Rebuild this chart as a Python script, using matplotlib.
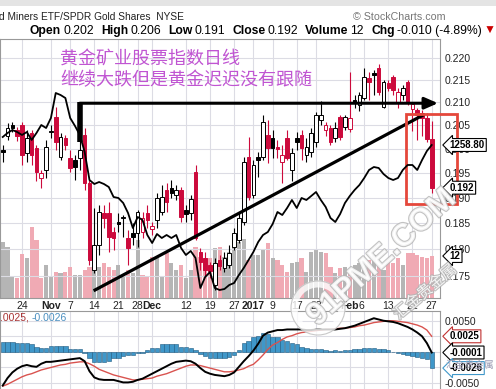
import matplotlib
matplotlib.use("Agg")
import matplotlib.pyplot as plt
import matplotlib.patheffects as pe
import matplotlib.transforms as mtrans
from matplotlib.patches import Rectangle, Circle
from matplotlib.ticker import NullLocator, NullFormatter, FuncFormatter
import numpy as np
import pandas as pd

plt.rcParams['font.family'] = ['Liberation Sans', 'DejaVu Sans']

W, H = 496, 389

# trading days (US holidays removed)
holidays = ["2016-11-24", "2016-12-26", "2017-01-02", "2017-01-16", "2017-02-20"]
dates = pd.bdate_range("2016-10-18", "2017-02-27", freq="C", holidays=holidays)

opens = [
    0.1998, 0.2027, 0.2051, 0.2040, 0.2051, 0.1991, 0.2033, 0.2002, 0.1940, 0.1956,
    0.2036, 0.2068, 0.1983, 0.2023, 0.1981, 0.1977, 0.1981, 0.2029, 0.1930, 0.1761,
    0.1808, 0.1870, 0.1870, 0.1833, 0.1852, 0.1860, 0.1821, 0.1831, 0.1831, 0.1833,
    0.1870, 0.1838, 0.1856, 0.1872, 0.1915, 0.1919, 0.1905, 0.1915, 0.1876, 0.1870,
    0.1952, 0.1795, 0.1783, 0.1770, 0.1734, 0.1780, 0.1765, 0.1770, 0.1804, 0.1817,
    0.1852, 0.1983, 0.1905, 0.1983, 0.1983, 0.2029, 0.2023, 0.2004, 0.1972, 0.2023,
    0.1956, 0.2023, 0.2029, 0.1987, 0.1993, 0.2014, 0.2061, 0.2040, 0.2044, 0.2023,
    0.2068, 0.2046, 0.2042, 0.2105, 0.2094, 0.2110, 0.2155, 0.2165, 0.2177, 0.2089,
    0.2144, 0.2157, 0.2099, 0.2116, 0.2146, 0.2085, 0.2083, 0.2077, 0.2066, 0.2020]
highs = [
    0.2008, 0.2055, 0.2057, 0.2046, 0.2057, 0.2040, 0.2040, 0.2008, 0.1956, 0.2018,
    0.2051, 0.2090, 0.2033, 0.2029, 0.1998, 0.1987, 0.2018, 0.2044, 0.1936, 0.1880,
    0.1885, 0.1885, 0.1891, 0.1842, 0.1870, 0.1866, 0.1837, 0.1850, 0.1876, 0.1872,
    0.1885, 0.1852, 0.1909, 0.1925, 0.1930, 0.1936, 0.1925, 0.1921, 0.1885, 0.1905,
    0.1966, 0.1803, 0.1795, 0.1776, 0.1783, 0.1789, 0.1795, 0.1808, 0.1840, 0.1872,
    0.1983, 0.2025, 0.1977, 0.1993, 0.2072, 0.2061, 0.2040, 0.2018, 0.2008, 0.2040,
    0.2002, 0.2036, 0.2040, 0.2023, 0.2044, 0.2079, 0.2103, 0.2057, 0.2051, 0.2057,
    0.2072, 0.2072, 0.2167, 0.2116, 0.2123, 0.2177, 0.2167, 0.2172, 0.2186, 0.2150,
    0.2150, 0.2161, 0.2132, 0.2139, 0.2150, 0.2100, 0.2087, 0.2083, 0.2077, 0.2060]
lows = [
    0.1972, 0.2019, 0.2036, 0.2016, 0.1966, 0.1973, 0.1966, 0.1933, 0.1919, 0.1940,
    0.2023, 0.1998, 0.1977, 0.1998, 0.1952, 0.1936, 0.1956, 0.1915, 0.1770, 0.1756,
    0.1789, 0.1840, 0.1795, 0.1799, 0.1833, 0.1823, 0.1770, 0.1808, 0.1804, 0.1821,
    0.1840, 0.1827, 0.1840, 0.1866, 0.1872, 0.1899, 0.1895, 0.1852, 0.1852, 0.1856,
    0.1817, 0.1761, 0.1750, 0.1746, 0.1725, 0.1761, 0.1757, 0.1765, 0.1799, 0.1812,
    0.1846, 0.1895, 0.1899, 0.1942, 0.1977, 0.1970, 0.1981, 0.1981, 0.1930, 0.1977,
    0.1933, 0.1998, 0.1977, 0.1973, 0.1983, 0.2004, 0.2051, 0.2027, 0.2008, 0.2014,
    0.2018, 0.2040, 0.2036, 0.2088, 0.2081, 0.2105, 0.2105, 0.2116, 0.2116, 0.2087,
    0.2125, 0.2116, 0.2088, 0.2105, 0.2094, 0.2037, 0.2019, 0.2027, 0.2014, 0.1910]
closes = [
    0.1993, 0.2044, 0.2044, 0.2026, 0.1987, 0.2023, 0.1987, 0.1952, 0.1950, 0.2004,
    0.2038, 0.2014, 0.2025, 0.2008, 0.1960, 0.1962, 0.1998, 0.1930, 0.1780, 0.1808,
    0.1872, 0.1860, 0.1823, 0.1821, 0.1848, 0.1862, 0.1802, 0.1823, 0.1872, 0.1860,
    0.1856, 0.1844, 0.1899, 0.1901, 0.1891, 0.1909, 0.1915, 0.1862, 0.1868, 0.1897,
    0.1821, 0.1776, 0.1761, 0.1759, 0.1774, 0.1769, 0.1784, 0.1793, 0.1831, 0.1860,
    0.1972, 0.1901, 0.1966, 0.1977, 0.2057, 0.2002, 0.2002, 0.2000, 0.1987, 0.1981,
    0.1991, 0.2014, 0.2002, 0.2004, 0.2033, 0.2072, 0.2072, 0.2051, 0.2014, 0.2044,
    0.2025, 0.2068, 0.2066, 0.2099, 0.2116, 0.2157, 0.2146, 0.2161, 0.2123, 0.2146,
    0.2132, 0.2127, 0.2123, 0.2132, 0.2101, 0.2096, 0.2072, 0.2066, 0.2020, 0.1920]
volumes = [
    16.0, 14.6, 6.0, 5.7, 12.6, 11.4, 20.3, 16.6, 5.7, 9.4,
    6.0, 7.4, 7.1, 7.4, 8.9, 6.6, 6.6, 8.0, 8.9, 11.4,
    8.9, 10.0, 8.9, 8.0, 9.4, 6.0, 8.0, 7.1, 16.6, 6.6,
    6.0, 11.7, 11.4, 6.0, 12.9, 10.0, 8.0, 9.4, 5.7, 8.0,
    14.6, 11.7, 10.9, 11.4, 14.3, 14.6, 11.7, 13.1, 18.0, 16.0,
    17.0, 10.9, 12.3, 12.3, 13.7, 15.7, 11.4, 10.9, 9.4, 7.4,
    10.0, 10.3, 11.4, 7.4, 13.1, 13.7, 13.1, 12.9, 8.9, 7.1,
    8.6, 8.9, 7.4, 9.4, 10.0, 8.0, 10.9, 12.3, 9.4, 8.0,
    10.9, 10.0, 11.4, 9.4, 12.9, 12.9, 12.3, 11.7, 11.4, 12.0]
# spot gold overlay
gold = [
    1266.0, 1269.6, 1272.3, 1270.5, 1267.8, 1270.5, 1263.3, 1269.6, 1276.8, 1274.1,
    1283.1, 1305.6, 1303.8, 1301.1, 1283.1, 1275.9, 1267.8, 1252.5, 1227.3, 1223.7,
    1225.5, 1223.7, 1221.0, 1212.0, 1211.1, 1206.6, 1197.6, 1184.1, 1194.0, 1191.3,
    1177.8, 1170.6, 1178.7, 1175.1, 1177.8, 1175.1, 1177.8, 1166.1, 1159.8, 1163.4,
    1157.1, 1130.1, 1140.0, 1144.5, 1130.1, 1128.3, 1129.2, 1132.8, 1134.6, 1141.8,
    1148.1, 1155.3, 1162.5, 1171.5, 1177.8, 1180.5, 1187.7, 1198.5, 1195.8, 1202.1,
    1209.3, 1202.1, 1211.1, 1209.3, 1212.9, 1216.5, 1209.3, 1203.0, 1193.1, 1189.5,
    1196.7, 1206.6, 1212.9, 1218.3, 1222.8, 1229.1, 1236.3, 1239.0, 1238.1, 1232.7,
    1229.1, 1227.3, 1229.1, 1236.3, 1240.8, 1240.8, 1236.3, 1245.3, 1253.4, 1258.8]
macd = [
    -0.0054, -0.0042, -0.0033, -0.0027, -0.0023, -0.0021, -0.0023, -0.0024, -0.0019, -0.0016,
    -0.0016, -0.0015, -0.0014, -0.0013, -0.0012, -0.0011, -0.0010, -0.0015, -0.0031, -0.0041,
    -0.0044, -0.0045, -0.0045, -0.0045, -0.0047, -0.0049, -0.0049, -0.0048, -0.0045, -0.0043,
    -0.0039, -0.0035, -0.0031, -0.0027, -0.0023, -0.0019, -0.0016, -0.0015, -0.0014, -0.0015,
    -0.0019, -0.0026, -0.0032, -0.0035, -0.0037, -0.0038, -0.0039, -0.0037, -0.0033, -0.0024,
    -0.0015, -0.0007, 0.0002, 0.0013, 0.0026, 0.0031, 0.0033, 0.0035, 0.0035, 0.0036,
    0.0036, 0.0036, 0.0036, 0.0035, 0.0035, 0.0036, 0.0036, 0.0036, 0.0036, 0.0036,
    0.0037, 0.0038, 0.0040, 0.0042, 0.0045, 0.0048, 0.0051, 0.0054, 0.0052, 0.0050,
    0.0049, 0.0048, 0.0046, 0.0043, 0.0040, 0.0036, 0.0031, 0.0025, 0.0014, -0.0001]
signal = [
    -0.0055, -0.0052, -0.0048, -0.0044, -0.0040, -0.0037, -0.0035, -0.0032, -0.0029, -0.0027,
    -0.0025, -0.0023, -0.0021, -0.0020, -0.0018, -0.0017, -0.0016, -0.0016, -0.0019, -0.0023,
    -0.0028, -0.0031, -0.0034, -0.0037, -0.0039, -0.0041, -0.0043, -0.0045, -0.0045, -0.0044,
    -0.0043, -0.0042, -0.0039, -0.0037, -0.0035, -0.0032, -0.0029, -0.0026, -0.0023, -0.0021,
    -0.0021, -0.0022, -0.0024, -0.0026, -0.0028, -0.0030, -0.0032, -0.0032, -0.0031, -0.0029,
    -0.0027, -0.0023, -0.0020, -0.0013, -0.0005, 0.0004, 0.0011, 0.0015, 0.0020, 0.0024,
    0.0026, 0.0029, 0.0031, 0.0032, 0.0033, 0.0034, 0.0035, 0.0036, 0.0036, 0.0037,
    0.0038, 0.0038, 0.0039, 0.0040, 0.0042, 0.0043, 0.0045, 0.0047, 0.0048, 0.0049,
    0.0050, 0.0050, 0.0049, 0.0048, 0.0047, 0.0045, 0.0043, 0.0040, 0.0035, 0.0025]
hist = [
    0.0016, 0.0016, 0.0016, 0.0014, 0.0014, 0.0014, 0.0013, 0.0008, 0.0006, 0.0006,
    0.0009, 0.0009, 0.0009, 0.0009, 0.0005, 0.0005, 0.0004, -0.0002, -0.0010, -0.0016,
    -0.0016, -0.0016, -0.0015, -0.0010, -0.0010, -0.0007, -0.0005, -0.0005, -0.0002, -0.0001,
    0.0003, 0.0006, 0.0007, 0.0012, 0.0013, 0.0013, 0.0012, 0.0008, 0.0008, 0.0007,
    0.0003, -0.0004, -0.0006, -0.0010, -0.0010, -0.0010, -0.0010, -0.0008, -0.0005, 0.0003,
    0.0014, 0.0018, 0.0024, 0.0025, 0.0030, 0.0029, 0.0024, 0.0024, 0.0019, 0.0018,
    0.0014, 0.0013, 0.0008, 0.0007, 0.0004, 0.0004, 0.0004, 0.0003, 0.0002, 0.0003,
    0.0002, 0.0003, 0.0003, 0.0004, 0.0004, 0.0006, 0.0007, 0.0007, 0.0005, 0.0004,
    0.0003, 0.0000, -0.0001, -0.0003, -0.0005, -0.0006, -0.0009, -0.0010, -0.0012, -0.0026]

tick_dates = ["2016-10-24", "2016-11-01", "2016-11-07", "2016-11-14", "2016-11-21",
              "2016-11-28", "2016-12-01", "2016-12-12", "2016-12-19", "2016-12-27",
              "2017-01-03", "2017-01-09", "2017-01-17", "2017-01-23", "2017-02-01",
              "2017-02-06", "2017-02-13", "2017-02-21", "2017-02-27"]
price_ticks = [0.175, 0.180, 0.185, 0.190, 0.195, 0.200, 0.205, 0.210, 0.215, 0.220]
macd_ticks = [-0.005, -0.0025, 0.0, 0.0025, 0.005]

RED = '#cc0a3c'
GRID = '#dcdce4'


def fx(px):
    return px / W


def fy(py):
    return 1 - py / H


fig = plt.figure(figsize=(W / 100, H / 100), dpi=100)
fig.patch.set_facecolor('white')

x = np.arange(len(dates))
o, h, l, c = map(np.array, (opens, highs, lows, closes))
prev = np.r_[c[0], c[:-1]]
up = c >= prev
col = np.where(up, 'black', RED)
fill = np.where(c > o, 'white', col)

# ---- main panel: volume underneath, price candles, gold overlay on top
rect_main = [0, fy(298), 440 / W, (298 - 39) / H]
ax_vol = fig.add_axes(rect_main)
ax = fig.add_axes(rect_main, sharex=ax_vol)
ax_gold = fig.add_axes(rect_main, sharex=ax_vol)
for a in (ax, ax_gold):
    a.patch.set_visible(False)
for a in (ax_vol, ax_gold):
    a.tick_params(left=False, right=False, bottom=False, labelleft=False,
                  labelright=False, labelbottom=False)
    for s in a.spines.values():
        s.set_visible(False)

ax_vol.bar(x, volumes, width=0.86, color=np.where(up, '#b5b5b5', '#f0aab4'),
           zorder=2)
ax_vol.set_ylim(0, 74)
ax_vol.grid(axis='x', color=GRID, lw=0.8, zorder=0)
ax_vol.set_axisbelow(True)

ax.set_yscale('log')
ax.set_ylim(0.17101, 0.22443)
ax.set_xlim(-0.564, 90.72)
ax.vlines(x, l, h, colors=col, lw=0.8, zorder=3)
ax.bar(x, np.abs(c - o), bottom=np.minimum(o, c), width=0.75, facecolor=fill,
       edgecolor=col, linewidth=0.7, zorder=4)
ax.grid(axis='y', color=GRID, lw=0.8, zorder=0)
ax.yaxis.tick_right()
ax.set_yticks(price_ticks)
ax.yaxis.set_major_formatter(FuncFormatter(lambda v, p: f"{v:.3f}"))
ax.yaxis.set_minor_locator(NullLocator())
ax.yaxis.set_minor_formatter(NullFormatter())
ax.tick_params(axis='y', length=0, pad=3, labelsize=7.5, labelcolor='#222222')

tick_idx = [dates.get_loc(pd.Timestamp(d)) for d in tick_dates]
tick_lbl, tick_bold = [], []
for i in tick_idx:
    d = dates[i]
    first = i > 0 and dates[i - 1].month != d.month
    if first:
        tick_lbl.append(str(d.year) if d.month == 1 else d.strftime('%b'))
    else:
        tick_lbl.append(str(d.day))
    tick_bold.append(first)
ax.set_xticks(tick_idx)
ax.set_xticklabels(tick_lbl)
ax.tick_params(axis='x', length=0, pad=2, labelsize=7.5, labelcolor='#222222')
xt = ax.get_xticklabels()
for k, (t, b) in enumerate(zip(xt, tick_bold)):
    if b:
        t.set_fontweight('bold')
    elif k > 0 and tick_idx[k] - tick_idx[k - 1] <= 3:
        # day number squeezed right after a month label
        t.set_horizontalalignment('right')
for s in ax.spines.values():
    s.set_color('#999999')
    s.set_linewidth(0.8)

ax_gold.plot(x, gold, color='black', lw=1.3, zorder=3)
ax_gold.set_ylim(1121.1, 1354.2)

# hand-drawn annotations
ax.plot([16.03, 16.03], [0.2014, 0.2100], color='black', lw=4,
        solid_capstyle='butt', zorder=6)
ax.annotate('', xy=(90.3, 0.2098), xytext=(16.0, 0.2098), zorder=6,
            arrowprops=dict(arrowstyle='-|>,head_length=0.8,head_width=0.35',
                            color='black', lw=2.2, shrinkA=0, shrinkB=0))
ax.plot([19.15, 87.2], [0.17245, 0.2072], color='black', lw=2.3, zorder=6)
ax.add_patch(Rectangle((83.7, 0.18874), 10.5, 0.20744 - 0.18874, fill=False,
                       ec='#e5473b', lw=2, clip_on=False, zorder=7))


def box_label(draw_ax, ytrans_ax, val, txt, ec='black', xa=1.022):
    tr = mtrans.blended_transform_factory(draw_ax.transAxes, ytrans_ax.transData)
    draw_ax.text(xa, val, txt, transform=tr, ha='left', va='center', fontsize=7,
                 fontweight='bold', color='black', zorder=10, clip_on=False,
                 bbox=dict(boxstyle='larrow,pad=0.15', fc='white', ec=ec, lw=0.8))


box_label(ax_gold, ax_gold, gold[-1], f"{gold[-1]:.2f}")
box_label(ax, ax, closes[-1], f"{closes[-1]:.3f}")
box_label(ax_gold, ax_vol, volumes[-1], f"{volumes[-1]:.0f}")

# ---- MACD panel
ax_m = fig.add_axes([0, fy(395), 440 / W, (395 - 311) / H], sharex=ax_vol)
ax_m.bar(x, hist, width=0.9, color='#3f97c9', edgecolor='#1f5a80', lw=0.4, zorder=2)
ax_m.plot(x, signal, color='#d9534f', lw=1.0, zorder=3)
ax_m.plot(x, macd, color='black', lw=1.4, zorder=4)
ax_m.set_ylim(-0.00692, 0.00656)
ax_m.yaxis.tick_right()
ax_m.set_yticks(macd_ticks)
ax_m.set_yticklabels(['-0.0050', '', '', '', '0.0050'])
ax_m.tick_params(axis='y', length=0, pad=3, labelsize=7.5, labelcolor='#222222')
ax_m.tick_params(axis='x', length=0, labelbottom=False)
ax_m.grid(True, color=GRID, lw=0.8, zorder=0)
ax_m.set_axisbelow(True)
for s in ax_m.spines.values():
    s.set_color('#999999')
    s.set_linewidth(0.8)
box_label(ax_m, ax_m, signal[-1], f"{signal[-1]:.4f}", ec='#c03030')
box_label(ax_m, ax_m, macd[-1], f"{macd[-1]:.4f}")
box_label(ax_m, ax_m, hist[-1], f"{hist[-1]:.4f}", ec='#3f97c9')

# ---- header texts
renderer = fig.canvas.get_renderer()


def run_text(x0, y0, parts, size, target=None):
    texts = []
    for s, w, cc, gap in parts:
        t = fig.text(0, 0, s, fontsize=size, fontweight=w, color=cc,
                     ha='left', va='center')
        texts.append((t, gap))
    total = sum(t.get_window_extent(renderer).width + g for t, g in texts)
    k = target / total if target else 1.0
    xx = x0
    for t, g in texts:
        t.set_fontsize(size * k)
        t.set_position((fx(xx), fy(y0)))
        xx += t.get_window_extent(renderer).width + g * k


fig.add_artist(Rectangle((0, fy(6)), 1, 6 / H, transform=fig.transFigure,
                         fc='#e4e4e4', ec='none'))
run_text(-1, 17, [("d Miners ETF/SPDR Gold Shares  NYSE", 'normal', '#222222', 0)],
         8.5, target=184)
run_text(353, 17, [("\u00a9 StockCharts.com", 'normal', '#777777', 0)], 8, target=92)
run_text(30, 31, [("Open", 'bold', 'black', 2), ("0.202", 'normal', 'black', 7),
                  ("High", 'bold', 'black', 2), ("0.206", 'normal', 'black', 7),
                  ("Low", 'bold', 'black', 2), ("0.191", 'normal', 'black', 7),
                  ("Close", 'bold', 'black', 2), ("0.192", 'normal', 'black', 7),
                  ("Volume", 'bold', 'black', 2), ("12", 'normal', 'black', 7),
                  ("Chg", 'bold', 'black', 2), ("-0.010 (-4.89%)", 'normal', 'black', 2),
                  ("\u25bc", 'normal', '#cc0000', 0)], 8.5, target=463)
run_text(0, 318, [(".0025,", 'normal', '#a83232', 3), ("-0.0026", 'normal', '#4a8fc0', 0)],
         7.5)

cjk = ['Noto Sans CJK SC', 'DejaVu Sans']
fig.text(fx(60), fy(59), "黄金矿业股票指数日线", family=cjk, fontsize=13,
         color='#c055d2', va='center', ha='left')
fig.text(fx(60), fy(80), "继续大跌但是黄金迟迟没有跟随", family=cjk, fontsize=13,
         color='#c055d2', va='center', ha='left')

# ---- watermark
halo = [pe.withStroke(linewidth=1.6, foreground='#b4b4b4')]
fig.text(fx(382), fy(258), "91PME.COM", rotation=42, fontsize=23, fontweight='bold',
         color='white', alpha=0.8, ha='center', va='center', path_effects=halo,
         zorder=20)
fig.text(fx(425), fy(292), "汇金贵金属", rotation=40, family=cjk, fontsize=11,
         color='white', alpha=0.85, ha='center', va='center', path_effects=halo,
         zorder=20)
fig.add_artist(Circle((318, H - 308), 24, transform=mtrans.IdentityTransform(),
                      fill=False, ec='white', lw=5, alpha=0.8, zorder=20))
fig.add_artist(Circle((318, H - 308), 27, transform=mtrans.IdentityTransform(),
                      fill=False, ec='#bbbbbb', lw=0.8, alpha=0.8, zorder=20))
fig.text(fx(470), fy(365), "汇金贵金属", family=cjk, fontsize=7, color='#9d9db5',
         ha='center', va='center', zorder=20)

fig.savefig("out.png", dpi=100)
